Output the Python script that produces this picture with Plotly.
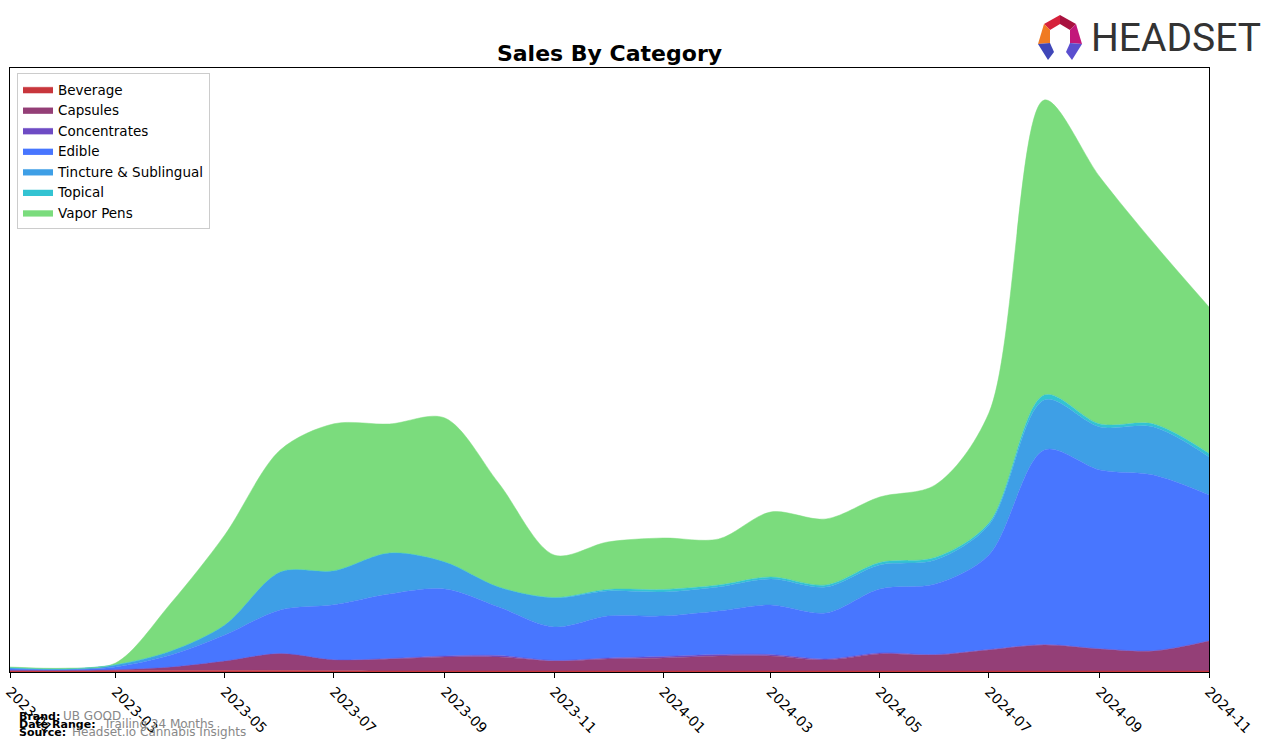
import plotly.graph_objects as go

months = ["2023-01-01", "2023-02-01", "2023-03-01", "2023-04-01", "2023-05-01", "2023-06-01",
          "2023-07-01", "2023-08-01", "2023-09-01", "2023-10-01", "2023-11-01", "2023-12-01",
          "2024-01-01", "2024-02-01", "2024-03-01", "2024-04-01", "2024-05-01", "2024-06-01",
          "2024-07-01", "2024-08-01", "2024-09-01", "2024-10-01", "2024-11-01"]

beverage = [1.5, 1.5, 1.5, 1.5, 1.5, 1.5, 1.2, 1, 1, 1, 1, 1, 1, 1, 1, 1, 1, 1, 1, 1, 1, 1, 1]
capsules = [0.3, 0.3, 0.8, 3.5, 9.5, 17, 11, 12, 14, 14, 10, 12, 13, 15, 15, 11, 17, 16, 21, 26, 22, 20, 30]
concentrates = [0, 0, 0, 0, 0, 0, 0, 0.5, 1, 1.5, 0.5, 1, 1.5, 1.5, 1.5, 1, 1, 0.5, 0.5, 0.5, 0.3, 0.3, 0.3]
edible = [1.2, 0.5, 2.7, 12, 26, 43.5, 55, 64.5, 67, 48.5, 33.5, 42, 40.5, 43.5, 49.5, 46, 64, 70.5, 94.5, 194.5, 178.7, 175.7, 145.7]
tincture = [1, 0.5, 2, 4, 10, 38, 34, 41, 27, 20, 29, 25, 24, 24, 26, 26, 24, 24, 30, 50, 43, 48, 38]
topical = [0.3, 0.3, 0.3, 0, 0, 0, 0, 0, 0, 0, 0.5, 1.5, 2.5, 2, 2, 2, 2.5, 2.5, 2, 5, 3, 3, 3.5]
vapor_pens = [0.7, 0.7, 1.7, 48, 90, 122, 147, 129, 144, 104, 42.5, 47.5, 51.5, 46, 65, 66, 65.5, 72.5, 110, 295, 247, 181, 146.5]

series = [
    ("Beverage", beverage, "#C8363C"),
    ("Capsules", capsules, "#943F77"),
    ("Concentrates", concentrates, "#6E4BC4"),
    ("Edible", edible, "#4876FF"),
    ("Tincture & Sublingual", tincture, "#3E9FE6"),
    ("Topical", topical, "#33C3D2"),
    ("Vapor Pens", vapor_pens, "#7BDC7D"),
]

tick_vals = months[::2]
tick_text = [m[:7] for m in tick_vals]

fig = go.Figure()
for name, vals, col in series:
    fig.add_trace(go.Scatter(
        x=months, y=vals, name=name, mode="lines", stackgroup="one",
        line=dict(color=col, width=0.5, shape="spline", smoothing=0.9),
        fillcolor=col,
    ))

W, H = 1276, 749
L, R, T, B = 10, 1209, 68, 672
pw, ph = R - L, B - T

def px(x):
    return (x - L) / pw

def py(y):
    return (B - y) / ph

fig.update_layout(
    width=W, height=H,
    margin=dict(l=L, r=W - R, t=T, b=H - B, pad=0, autoexpand=False),
    paper_bgcolor="white", plot_bgcolor="white",
    font=dict(family="DejaVu Sans", color="black"),
    title=dict(text="<b>Sales By Category</b>", x=(L + R) / 2 / W, xanchor="center",
               y=1 - 53 / H, yanchor="middle", font=dict(size=22, family="DejaVu Sans")),
    showlegend=True,
    legend=dict(x=px(17), y=py(73), xanchor="left", yanchor="top",
                bordercolor="#CCCCCC", borderwidth=1, bgcolor="rgba(255,255,255,0.8)",
                font=dict(size=13.5, family="DejaVu Sans"), traceorder="normal",
                tracegroupgap=0, itemwidth=30),
    xaxis=dict(type="date", range=[months[0], months[-1]], tickvals=tick_vals, ticktext=tick_text,
               tickangle=45, ticks="outside", ticklen=5, tickcolor="black", automargin=False,
               showline=True, linecolor="black", linewidth=1, mirror=True,
               showgrid=False, zeroline=False, tickfont=dict(size=14, family="DejaVu Sans")),
    yaxis=dict(range=[0, 604], showticklabels=False, ticks="", showline=True, linecolor="black",
               linewidth=1, mirror=True, showgrid=False, zeroline=False, automargin=False),
)

# footer info
foot = [(716, "Brand:", "UB GOOD"), (724, "Date Range:", "Trailing 24 Months"), (732, "Source:", "Headset.io Cannabis Insights")]
offs = {"Brand:": 44, "Date Range:": 84, "Source:": 53}
for y, lab, val in foot:
    fig.add_annotation(xref="paper", yref="paper", x=px(17), y=py(y), xanchor="left", yanchor="middle",
                       text="<b>" + lab + "</b>", showarrow=False, font=dict(size=11, color="black"))
    fig.add_annotation(xref="paper", yref="paper", x=px(17 + offs[lab]), y=py(y), xanchor="left", yanchor="middle",
                       text=val, showarrow=False, font=dict(size=12, color="#888888"))

# logo text
fig.add_annotation(xref="paper", yref="paper", x=px(1089), y=py(38), xanchor="left", yanchor="middle",
                   text="HEADSET", showarrow=False,
                   font=dict(size=39, color="#333333", family="Roboto, sans-serif"))

# logo icon (approximate)
def pts(lst):
    return "M " + " L ".join(f"{px(a)},{py(b)}" for a, b in lst) + " Z"
icon = [
    ([(1044, 24), (1060, 15), (1060, 24), (1050, 30)], "#D6213B"),
    ([(1060, 15), (1076, 24), (1070, 30), (1060, 24)], "#A8123F"),
    ([(1044, 24), (1050, 30), (1050, 43), (1038, 44)], "#F07A22"),
    ([(1076, 24), (1082, 44), (1070, 43), (1070, 30)], "#C2187A"),
    ([(1038, 44), (1050, 43), (1054, 52), (1048, 60)], "#3F46B8"),
    ([(1082, 44), (1070, 43), (1066, 52), (1072, 60)], "#5A4FCF"),
]
for poly, col in icon:
    fig.add_shape(type="path", xref="paper", yref="paper", path=pts(poly), fillcolor=col, line=dict(width=0))

fig.write_html("out.html")
